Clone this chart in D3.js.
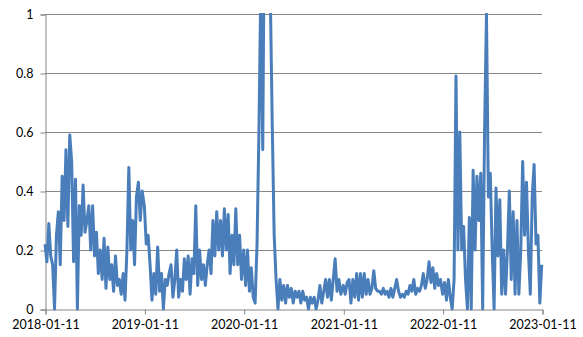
<!DOCTYPE html>
<html>
<head>
<meta charset="utf-8">
<script src="https://cdn.jsdelivr.net/npm/d3@7"></script>
<style>
  body { margin: 0; background: #fff; }
  svg { display: block; }
  text { font-family: Lato, "Open Sans", sans-serif; font-size: 12.5px; fill: #000; }
</style>
</head>
<body>
<div id="chart"></div>
<script>
// weekly values, each year starting on its 01-11
var start_dates = ['2018-01-11', '2019-01-11', '2020-01-11', '2021-01-11', '2022-01-11'];

var vals_2018 = [0.22, 0.16, 0.29, 0.18, 0.15, 0.0, 0.25, 0.33, 0.15, 0.45,
  0.3, 0.54, 0.28, 0.59, 0.5, 0.16, 0.44, 0.0, 0.35, 0.25,
  0.42, 0.26, 0.3, 0.35, 0.2, 0.35, 0.18, 0.26, 0.12, 0.2,
  0.1, 0.24, 0.07, 0.21, 0.1, 0.15, 0.06, 0.18, 0.08, 0.1,
  0.05, 0.12, 0.03, 0.2, 0.48, 0.2, 0.3, 0.15, 0.38, 0.43,
  0.3, 0.4];
var vals_2019 = [0.35, 0.22, 0.25, 0.15, 0.03, 0.12, 0.05, 0.21, 0.06, 0.12,
  0.0, 0.1, 0.08, 0.12, 0.15, 0.04, 0.1, 0.2, 0.04, 0.1,
  0.06, 0.17, 0.1, 0.18, 0.05, 0.17, 0.12, 0.35, 0.08, 0.2,
  0.1, 0.15, 0.08, 0.15, 0.2, 0.12, 0.3, 0.18, 0.33, 0.2,
  0.3, 0.18, 0.34, 0.2, 0.32, 0.12, 0.25, 0.15, 0.34, 0.15,
  0.25, 0.1];
var vals_2020 = [0.2, 0.08, 0.2, 0.06, 0.14, 0.04, 0.02, 0.22, 0.6, 1.1,
  0.54, 1.5, 1.8, 1.5, 1.05, 0.62, 0.25, 0.1, 0.0, 0.1,
  0.03, 0.08, 0.02, 0.08, 0.04, 0.07, 0.02, 0.06, 0.04, 0.06,
  0.02, 0.06, 0.03, 0.04, 0.0, 0.04, 0.02, 0.04, 0.0, 0.03,
  0.08, 0.02, 0.06, 0.1, 0.04, 0.1, 0.03, 0.1, 0.17, 0.06,
  0.1, 0.05];
var vals_2021 = [0.08, 0.05, 0.09, 0.1, 0.02, 0.1, 0.04, 0.12, 0.03, 0.12,
  0.04, 0.12, 0.05, 0.1, 0.05, 0.07, 0.13, 0.07, 0.06, 0.06,
  0.05, 0.07, 0.05, 0.06, 0.04, 0.07, 0.04, 0.07, 0.1, 0.06,
  0.04, 0.05, 0.04, 0.06, 0.05, 0.08, 0.06, 0.1, 0.05, 0.07,
  0.06, 0.08, 0.12, 0.07, 0.1, 0.16, 0.09, 0.14, 0.07, 0.12,
  0.08, 0.1];
var vals_2022 = [0.05, 0.09, 0.03, 0.1, 0.04, 0.0, 0.1, 0.79, 0.2, 0.6,
  0.2, 0.28, 0.1, 0.0, 0.31, 0.0, 0.47, 0.2, 0.45, 0.3,
  0.46, 0.0, 0.6, 1.0, 0.38, 0.46, 0.2, 0.0, 0.41, 0.18,
  0.37, 0.05, 0.2, 0.05, 0.2, 0.4, 0.1, 0.33, 0.05, 0.3,
  0.05, 0.2, 0.5, 0.25, 0.43, 0.2, 0.05, 0.38, 0.49, 0.22,
  0.25, 0.02, 0.15];

var y_ticks = [0, 0.2, 0.4, 0.6, 0.8, 1];
var x_ticks = ['2018-01-11', '2019-01-11', '2020-01-11', '2021-01-11', '2022-01-11', '2023-01-11'];

var parse = d3.timeParse('%Y-%m-%d');
var years = [vals_2018, vals_2019, vals_2020, vals_2021, vals_2022];

var data = [];
years.forEach(function(arr, k) {
  var d0 = parse(start_dates[k]);
  arr.forEach(function(v, i) {
    data.push({date: d3.timeDay.offset(d0, i * 7), value: v});
  });
});

var w = 583, h = 337;
var margin = {left: 45, right: 41, top: 14, bottom: 28};

var x = d3.scaleTime()
  .domain([parse(x_ticks[0]), parse(x_ticks[x_ticks.length - 1])])
  .range([margin.left, w - margin.right]);
var y = d3.scaleLinear()
  .domain([0, 1])
  .range([h - margin.bottom, margin.top]);

var the_svg = d3.select('#chart')
  .append('svg')
    .attr('width', w)
    .attr('height', h);

the_svg.append('defs').append('clipPath')
    .attr('id', 'plot_clip')
  .append('rect')
    .attr('x', margin.left - 2)
    .attr('y', margin.top - 1)
    .attr('width', w - margin.left - margin.right + 4)
    .attr('height', h - margin.top - margin.bottom + 4);

// horizontal gridlines
the_svg.append('g')
  .selectAll('line')
  .data(y_ticks.slice(1))
  .join('line')
    .attr('x1', margin.left)
    .attr('x2', w - margin.right)
    .attr('y1', function(d) { return Math.round(y(d)) + 0.5; })
    .attr('y2', function(d) { return Math.round(y(d)) + 0.5; })
    .attr('stroke', '#868686')
    .attr('stroke-width', 1);

var y_axis = the_svg.append('g')
  .attr('transform', 'translate(' + (margin.left + 0.5) + ',0.5)')
  .call(d3.axisLeft(y).tickValues(y_ticks).tickSize(5).tickPadding(7)
    .tickFormat(function(d) { return d3.format('')(+d.toFixed(1)); }));

var x_axis = the_svg.append('g')
  .attr('transform', 'translate(0.5,' + (Math.round(y(0)) + 0.5) + ')')
  .call(d3.axisBottom(x).tickValues(x_ticks.map(parse)).tickSize(5).tickPadding(6)
    .tickFormat(d3.timeFormat('%Y-%m-%d')));

[y_axis, x_axis].forEach(function(ax) {
  ax.select('.domain').attr('stroke', '#868686');
  ax.selectAll('.tick line').attr('stroke', '#868686');
  ax.selectAll('text').attr('font-family', null).attr('font-size', null);
});

var line = d3.line()
  .x(function(d) { return x(d.date); })
  .y(function(d) { return y(d.value); });

the_svg.append('path')
  .datum(data)
  .attr('clip-path', 'url(#plot_clip)')
  .attr('fill', 'none')
  .attr('stroke', '#4a7ebb')
  .attr('stroke-width', 3)
  .attr('stroke-linejoin', 'round')
  .attr('d', line);
</script>
</body>
</html>
